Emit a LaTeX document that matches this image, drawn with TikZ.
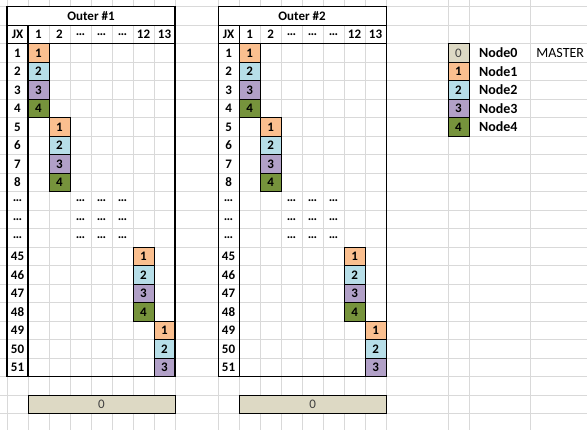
\documentclass[tikz,border=0pt]{standalone}
\usepackage{fontspec}
\setmainfont{Carlito}
\usetikzlibrary{positioning}

\definecolor{node0}{HTML}{DDD9C4}
\definecolor{node1}{HTML}{FABF8F}
\definecolor{node2}{HTML}{B7DEE8}
\definecolor{node3}{HTML}{B1A0C7}
\definecolor{node4}{HTML}{76933C}
\definecolor{gridgray}{HTML}{D9D9D9}
\definecolor{zerogray}{HTML}{404040}

\newcommand{\cellfont}{\fontsize{13}{15}\selectfont}
\newcommand{\legfont}{\fontsize{14}{16}\selectfont}

\begin{document}
\begin{tikzpicture}[
  x=21pt, y=-18.5pt,
  gridline/.style={draw=gridgray, line width=0.8pt},
  frame/.style={draw=black, line width=1.1pt},
  cellbox/.style={rectangle, draw, line width=0.9pt, minimum width=21pt, minimum height=18.5pt, inner sep=0pt, font=\cellfont\bfseries},
  headtext/.style={inner sep=0pt, font=\cellfont\bfseries},
  titlecell/.style={rectangle, draw, line width=1.1pt, fill=white, minimum width=168pt, minimum height=18.5pt, inner sep=0pt, font=\cellfont\bfseries},
  sumbar/.style={rectangle, draw, line width=0.9pt, fill=node0, minimum width=147pt, minimum height=18.5pt, inner sep=0pt, text=zerogray, font=\cellfont},
  legname/.style={inner sep=0pt, font=\legfont\bfseries},
  legplain/.style={inner sep=0pt, font=\legfont}
]

\useasboundingbox (-0.3333,-0.3622) rectangle (27.619,22.881);

% sheet grid
\foreach \r in {0,...,22}
  \draw[gridline] (-0.3333,\r) -- (27.619,\r);
\foreach \c in {0,...,8} {
  \draw[gridline] (\c,-0.3622) -- (\c,22.881);
  \draw[gridline] (\c+10.05,-0.3622) -- (\c+10.05,22.881);
}
\foreach \c in {21,22,24.905}
  \draw[gridline] (\c,-0.3622) -- (\c,22.881);

% the two outer tables
\foreach \t/\dx in {1/0,2/10.05} {
\begin{scope}[xshift=\dx*21pt]

\node[titlecell] (t\t-title) at (4,0.5) {Outer \#\t};

\foreach \c/\lab in {0/JX,1/1,2/2,3/…,4/…,5/…,6/12,7/13}
  \node[headtext] (t\t-h\c) at (\c+0.5,1.5) {\lab};

\foreach \r/\lab in {2/1,3/2,4/3,5/4,6/5,7/6,8/7,9/8,10/…,11/…,12/…,13/45,14/46,15/47,16/48,17/49,18/50,19/51}
  \node[headtext] (t\t-r\r) at (0.5,\r+0.5) {\lab};

\foreach \r in {10,11,12}
  \foreach \c in {3,4,5}
    \node[headtext] (t\t-d\r-\c) at (\c+0.5,\r+0.5) {…};

% node blocks
\foreach \c/\r/\m in {1/2/4,2/6/4,6/13/4,7/17/3}
  \foreach \n in {1,...,\m}
    \node[cellbox, fill=node\n] (t\t-c\c-\n) at (\c+0.5,\r+\n-0.5) {\n};

% borders
\draw[frame] (0,0) rectangle (8,20);
\draw[frame] (0,2) -- (8,2);
\draw[frame] (1,1) -- (1,20);

\node[sumbar] (t\t-bar) at (4.5,21.5) {0};

\end{scope}
}

% legend
\node[cellbox, fill=node0, font=\cellfont, text=zerogray] (leg0) at (21.5,2.5) {0};
\foreach \n in {1,...,4}
  \node[cellbox, fill=node\n] (leg\n) at (21.5,\n+2.5) {\n};
\foreach \n in {0,...,4}
  \node[legname, right=9.5pt of leg\n] (name\n) {Node\n};
\node[legplain, anchor=west] (master) at (25.2,2.5) {MASTER};

\end{tikzpicture}
\end{document}
